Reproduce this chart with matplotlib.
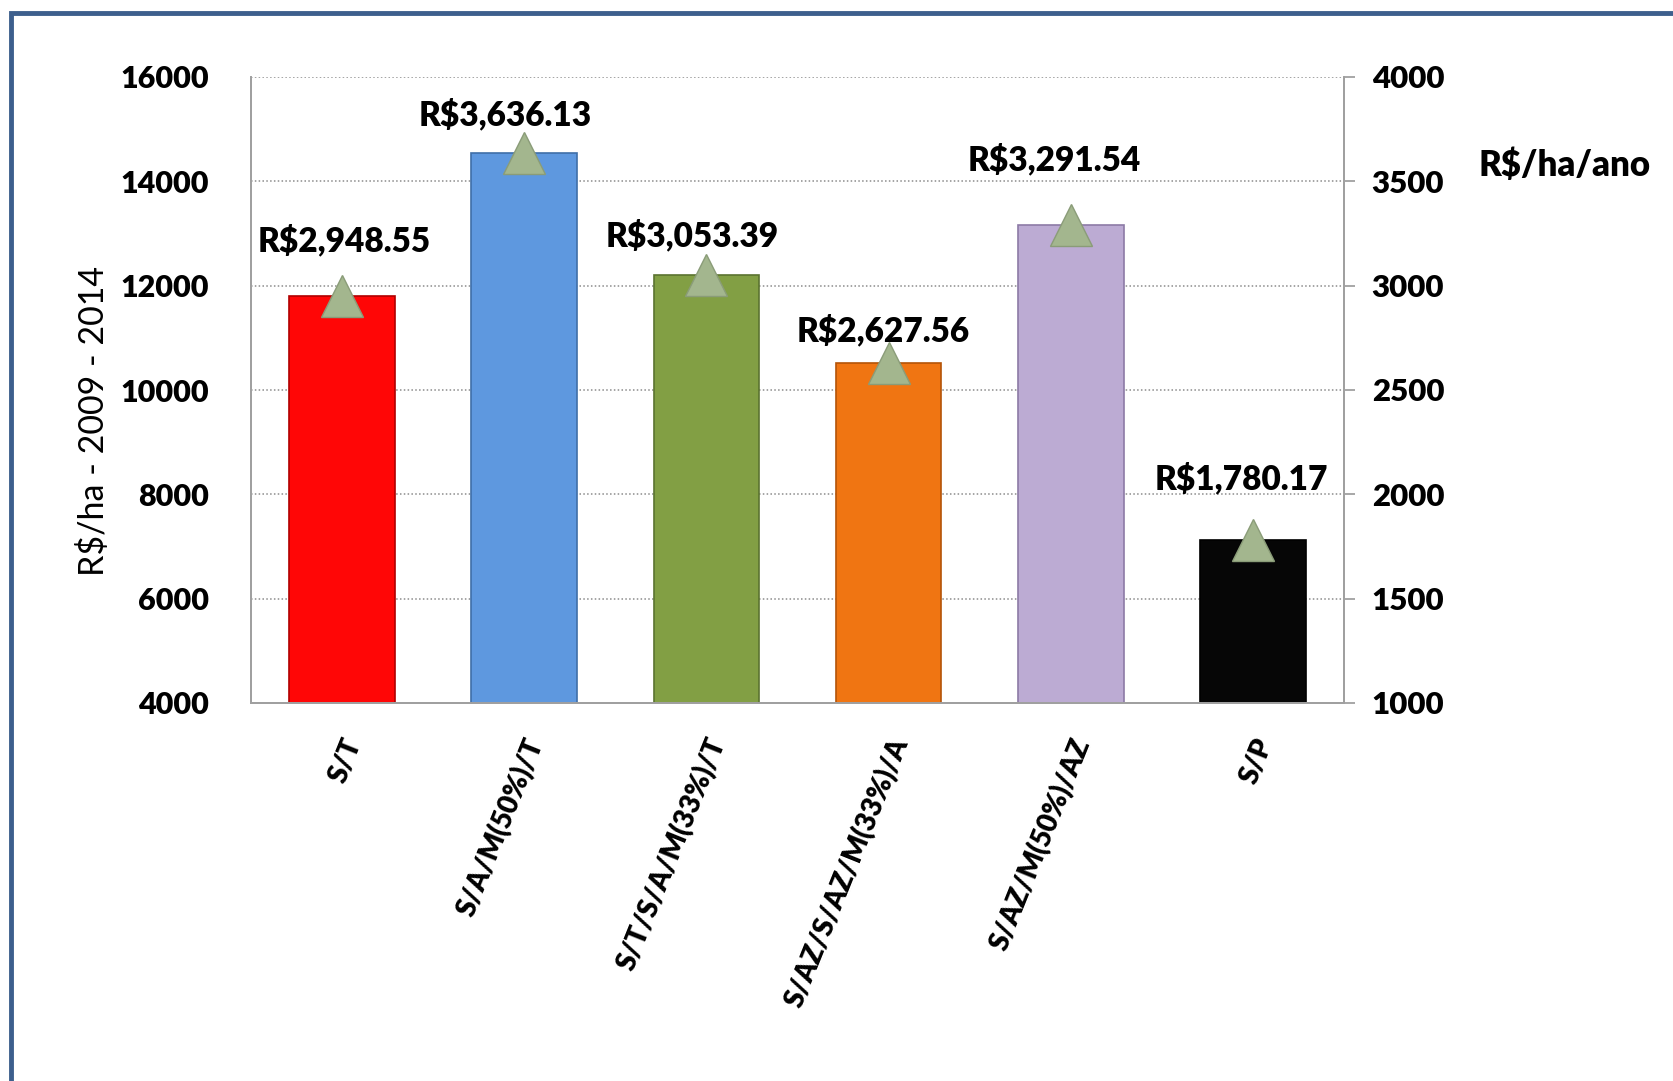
import matplotlib
matplotlib.use("Agg")
import matplotlib.pyplot as plt
from matplotlib.patches import Rectangle
from matplotlib.transforms import ScaledTranslation

# dados
categorias = ["S/T", "S/A/M(50%)/T", "S/T/S/A/M(33%)/T",
              "S/AZ/S/AZ/M(33%)/A", "S/AZ/M(50%)/AZ", "S/P"]
total_2009_2014 = [11794, 14545, 12214, 10510, 13166, 7121]   # eixo esquerdo
por_ano = [2948.55, 3636.13, 3053.39, 2627.56, 3291.54, 1780.17]  # eixo direito

cores = ["#ff0606", "#5e98df", "#829f44", "#f07512", "#bcabd3", "#060606"]
bordas = ["#b00000", "#3f6fa8", "#5b7330", "#b45408", "#8c7aa6", "#000000"]
# deslocamento dos rótulos (pixels) em relação ao marcador
desloc = [(2, 55), (-19, 38), (-14, 39), (-5, 32), (-17, 65), (-12, 61)]

plt.rcParams["font.family"] = ["Lato", "DejaVu Sans"]

W, H = 1673, 1081
fig = plt.figure(figsize=(W / 100, H / 100), dpi=100)
fig.patch.set_facecolor("white")

ax = fig.add_axes([251 / W, 1 - 703 / H, (1344 - 251) / W, (703 - 77) / H])
ax2 = ax.twinx()

x = range(len(categorias))
ax.bar(x, total_2009_2014, width=0.58, color=cores, edgecolor=bordas,
       linewidth=1.2, zorder=2)
ax.set_xlim(-0.5, len(categorias) - 0.5)
ax.set_ylim(4000, 16000)
ax.set_yticks(range(4000, 16001, 2000))
ax.grid(axis="y", color="#8c8c8c", linestyle=(0, (1, 1.5)), linewidth=1.1, zorder=0)
ax.set_axisbelow(True)

ax2.plot(x, por_ano, linestyle="none", marker="^", markersize=30,
         markerfacecolor="#a3b68e", markeredgecolor="#8a9c78",
         markeredgewidth=1, zorder=5)
ax2.set_ylim(1000, 4000)
ax2.set_yticks(range(1000, 4001, 500))

for i, v in enumerate(por_ano):
    ax2.annotate(f"R${v:,.2f}", (i, v), xytext=desloc[i],
                 textcoords="offset pixels", ha="center", va="center",
                 fontsize=24, fontweight="heavy", color="black", zorder=6)

for a in (ax, ax2):
    a.spines["top"].set_visible(False)
    for s in ("left", "right", "bottom"):
        a.spines[s].set_color("#a0a0a0")
        a.spines[s].set_linewidth(1.3)

ax.tick_params(axis="y", length=0, pad=30, labelsize=22)
ax2.tick_params(axis="y", length=8, width=1.3, color="#a0a0a0", pad=12, labelsize=22.5)
for lbl in ax.get_yticklabels() + ax2.get_yticklabels():
    lbl.set_fontweight("heavy")

ax.set_xticks(list(x))
ax.set_xticklabels(categorias, rotation=68, ha="right", va="center",
                   rotation_mode="anchor", fontsize=20, fontweight="heavy")
ax.tick_params(axis="x", length=0, pad=26)
desvio = ScaledTranslation(0.12, 0, fig.dpi_scale_trans)
for lbl in ax.get_xticklabels():
    lbl.set_transform(lbl.get_transform() + desvio)

fig.text(94 / W, 1 - 421 / H, "R$/ha - 2009 - 2014", rotation=90,
         ha="center", va="center", fontsize=24.5)
fig.text(1565 / W, 1 - 165 / H, "R$/ha/ano", ha="center", va="center",
         fontsize=25, fontweight="heavy")

# moldura azul
fig.add_artist(Rectangle((11 / W, -0.2), 1.5, 1 - 13 / H + 0.2,
                         transform=fig.transFigure, fill=False,
                         edgecolor="#3d5f8d", linewidth=3.5))

fig.savefig("out.png", dpi=100)
